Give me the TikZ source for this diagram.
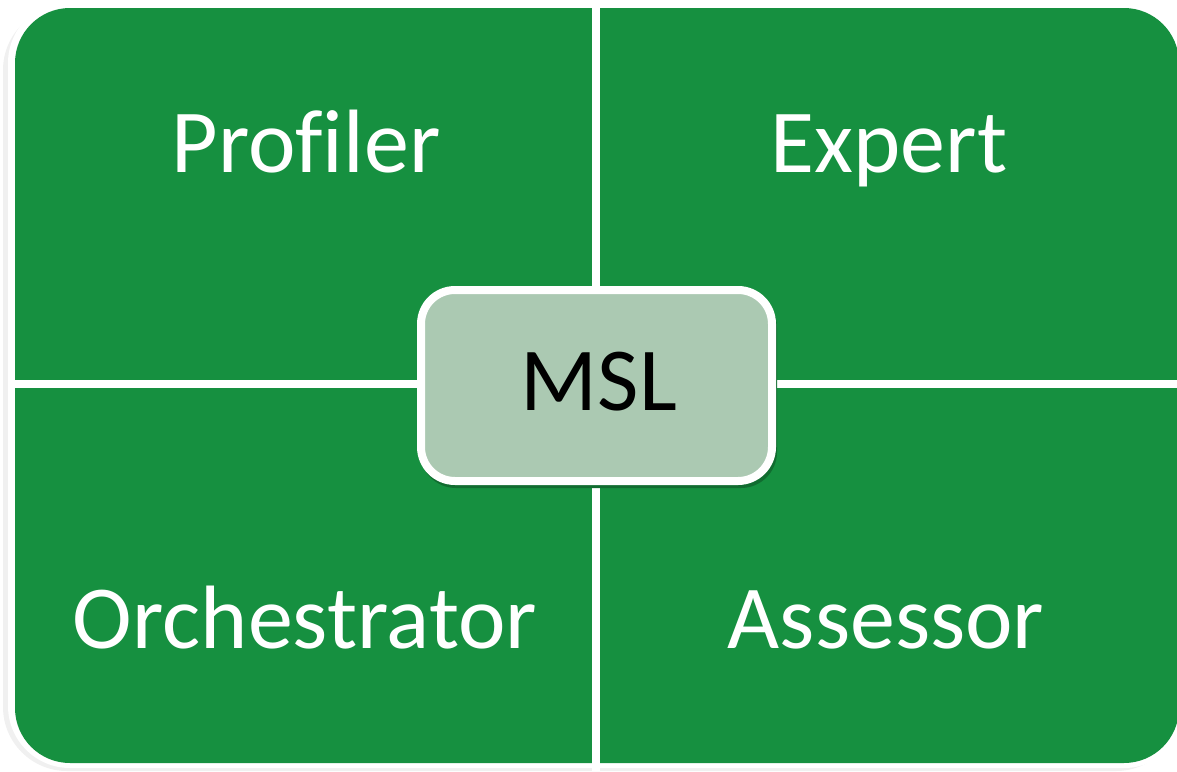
\documentclass[tikz,border=0pt]{standalone}
\usepackage{fontspec}
\setmainfont{Carlito}[Ligatures=NoCommon]
\usetikzlibrary{positioning}

\definecolor{quadgreen}{HTML}{169040}
\definecolor{mslgreen}{HTML}{ABC9B2}

\tikzset{
    role/.style={anchor=base,text=white,font=\fontsize{90}{100}\selectfont},
    divider/.style={draw=white,line width=8pt}
}

\begin{document}
\begin{tikzpicture}[x=1pt,y=-1pt]
            \useasboundingbox (0,0) rectangle (1177,771);
            % soft shadow and white rim
            \fill[black!6,rounded corners=64pt] (3,6) rectangle (1180,771);
            \fill[white,rounded corners=62pt] (8,1) rectangle (1186,768);
            % green field
            \fill[quadgreen,rounded corners=55pt] (15,8) rectangle (1179,763);
            \coordinate (top) at (596,0);
            \coordinate (bottom) at (596,771);
            \coordinate (left) at (10,384);
            \coordinate (right) at (1177,384);
            \draw[divider] (top) -- (bottom);
            \draw[divider] (left) -- (right);
            \node[role] (profiler) at (306,172) {Profiler};
            \node[role] (expert) at (889,172) {Expert};
            \node[role] (orchestrator) at (305,648) {Orchestrator};
            \node[role] (assessor) at (886,648) {Assessor};
            % centre box
            \fill[quadgreen!75!black,rounded corners=36pt] (420,292) rectangle (777,488);
            \draw[draw=white,line width=8pt,fill=mslgreen,rounded corners=34pt]
                (421,290) rectangle (772,481);
            \node[role,text=black] (msl) at (599,410) {MSL};
        \end{tikzpicture}
\end{document}
